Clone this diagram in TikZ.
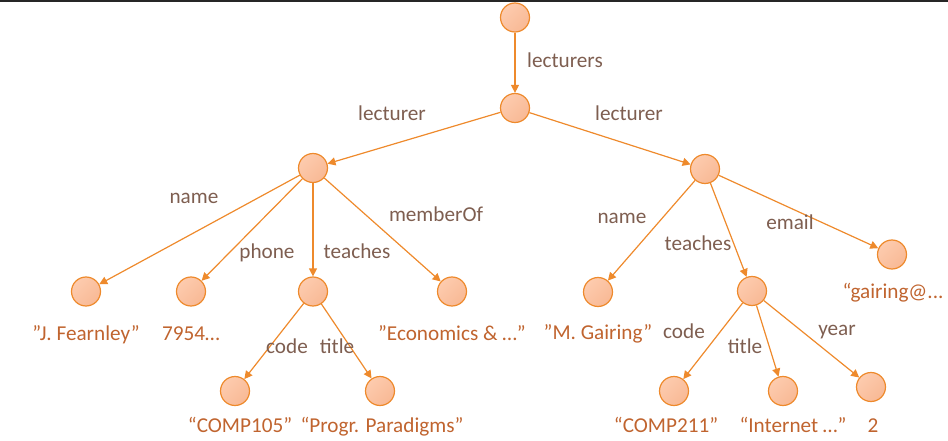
\documentclass[tikz,border=0pt]{standalone}
\usepackage{fontspec}
\setmainfont{Carlito}
\definecolor{accent}{HTML}{EE8A2C}
\definecolor{dotlight}{HTML}{FDCBAE}
\definecolor{dotdark}{HTML}{F8B995}
\definecolor{keytext}{HTML}{7E5E50}
\definecolor{valtext}{HTML}{C0642F}
\usetikzlibrary{arrows.meta}

\begin{document}
\begin{tikzpicture}[x=1pt, y=-1pt,
    dot/.style={circle, draw=accent, top color=dotlight, bottom color=dotdark,
                shading angle=45, line width=1.2pt,
                minimum size=29pt, inner sep=0pt},
    key/.style={text=keytext, font=\fontsize{21.2}{25}\selectfont,
                inner sep=0pt, anchor=base},
    val/.style={text=valtext, font=\fontsize{21.2}{25}\selectfont,
                inner sep=0pt, anchor=base},
    arr/.style={-{Triangle[length=8pt, width=8pt]}, line width=1.2pt, draw=accent}
  ]
  \useasboundingbox (0,0) rectangle (948,441);
  \fill[black!85] (0,0) rectangle (948,2);

  % tree nodes
  \node[dot] (root) at (515,17.5) {};
  \node[dot] (lects) at (515,108) {};
  \node[dot] (lecA) at (313,168) {};
  \node[dot] (lecB) at (705,169) {};
  \node[dot] (nameA) at (86,291.5) {};
  \node[dot] (phoneA) at (191,291.5) {};
  \node[dot] (teachA) at (313,291.5) {};
  \node[dot] (memberA) at (452,291.5) {};
  \node[dot] (codeA) at (235,391) {};
  \node[dot] (titleA) at (380,391) {};
  \node[dot] (nameB) at (598,292) {};
  \node[dot] (teachB) at (752,291) {};
  \node[dot] (emailB) at (892,254.5) {};
  \node[dot] (codeB) at (674,391) {};
  \node[dot] (titleB) at (783,391) {};
  \node[dot] (yearB) at (871,387) {};

  % edges
  \draw[arr] (root)--(lects);
  \draw[arr] (lects)--(lecA); \draw[arr] (lects)--(lecB);
  \draw[arr] (lecA)--(nameA); \draw[arr] (lecA)--(phoneA);
  \draw[arr] (lecA)--(teachA); \draw[arr] (lecA)--(memberA);
  \draw[arr] (teachA)--(codeA); \draw[arr] (teachA)--(titleA);
  \draw[arr] (lecB)--(nameB); \draw[arr] (lecB)--(teachB);
  \draw[arr] (lecB)--(emailB);
  \draw[arr] (teachB)--(codeB); \draw[arr] (teachB)--(titleB);
  \draw[arr] (teachB)--(yearB);

  % edge labels
  \node[key] (kLects) at (565,68) {lecturers};
  \node[key] (kLecA) at (392,121) {lecturer};
  \node[key] (kLecB) at (629,121) {lecturer};
  \node[key] (kNameA) at (194,203) {name};
  \node[key] (kPhoneA) at (267,258) {phone};
  \node[key] (kTeachA) at (357,258) {teaches};
  \node[key] (kMemberA) at (436,222) {memberOf};
  \node[key] (kCodeA) at (287,353) {code};
  \node[key] (kTitleA) at (337,353) {title};
  \node[key] (kNameB) at (622,223) {name};
  \node[key] (kTeachB) at (698,250) {teaches};
  \node[key] (kEmailB) at (790,229) {email};
  \node[key] (kCodeB) at (684,338) {code};
  \node[key] (kTitleB) at (745,353) {title};
  \node[key] (kYearB) at (837,335) {year};

  % values
  \node[val] (vNameA) at (86,340) {”J. Fearnley”};
  \node[val] (vPhoneA) at (191,340) {7954…};
  \node[val] (vMemberA) at (452,340) {”Economics \& …”};
  \node[val] (vCodeA) at (240,432) {“COMP105”};
  \node[val] (vTitleA) at (382,432) {“Progr. Paradigms”};
  \node[val] (vNameB) at (598,339) {”M. Gairing”};
  \node[val] (vEmailB) at (893,298) {“gairing@...};
  \node[val] (vCodeB) at (666,432) {“COMP211”};
  \node[val] (vTitleB) at (793,432) {“Internet …”};
  \node[val] (vYearB) at (873,432) {2};
\end{tikzpicture}
\end{document}
